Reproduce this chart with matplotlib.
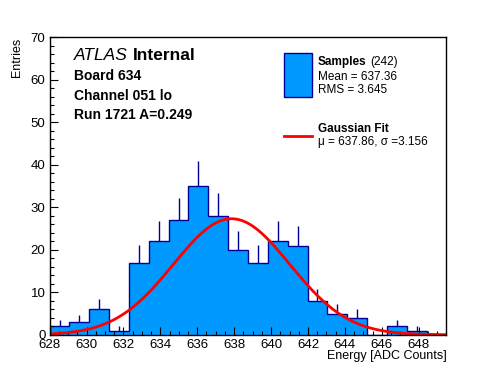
import numpy as np
import matplotlib.pyplot as plt
from matplotlib.patches import Rectangle
from matplotlib.lines import Line2D
from matplotlib.ticker import MultipleLocator

plt.rcParams['font.family'] = ['Liberation Sans', 'DejaVu Sans']

# histogram data (20 bins)
x_lo, x_hi = 628.0, 649.5
counts = [2, 3, 6, 1, 17, 22, 27, 35, 28, 20, 17, 22, 21, 8, 5, 4, 0, 2, 1, 0]

# fit parameters
fit_mu = 637.86
fit_sigma = 3.156
fit_amp = 27.3

n_samples = 242
mean_txt = "637.36"
rms_txt = "3.645"

fill_col = "#0099ff"
edge_col = "#000099"

edges = np.linspace(x_lo, x_hi, len(counts) + 1)
centres = 0.5 * (edges[:-1] + edges[1:])
counts = np.array(counts)

fig = plt.figure(figsize=(4.96, 3.72), dpi=100)
ax = fig.add_axes([0.1, 0.1, 0.8, 0.8])

ax.stairs(counts, edges, fill=True, color=fill_col, lw=0)
ax.stairs(counts, edges, fill=False, color=edge_col, lw=1.0)
nz = counts > 0
ax.vlines(centres[nz], counts[nz], counts[nz] + np.sqrt(counts[nz]), color=edge_col, lw=1.0)

xf = np.linspace(x_lo, x_hi, 400)
ax.plot(xf, fit_amp * np.exp(-0.5 * ((xf - fit_mu) / fit_sigma) ** 2), color="red", lw=2)

ax.set_xlim(x_lo, x_hi)
ax.set_ylim(0, 70)
ax.xaxis.set_major_locator(MultipleLocator(2))
ax.xaxis.set_minor_locator(MultipleLocator(0.5))
ax.yaxis.set_major_locator(MultipleLocator(10))
ax.yaxis.set_minor_locator(MultipleLocator(2))
ax.tick_params(which="both", direction="in", top=False, right=False, labelsize=9.5, width=0.8)
ax.tick_params(which="major", length=6)
ax.tick_params(which="minor", length=3)
ax.tick_params(axis="x", pad=3)
ax.tick_params(axis="y", pad=3)
for s in ax.spines.values():
    s.set_linewidth(1.0)

fig.text(0.035, 0.898, "Entries", rotation=90, ha="center", va="top", fontsize=9)
fig.text(0.9, 1 - 356 / 372, "Energy [ADC Counts]", ha="right", va="center", fontsize=9)

# ATLAS label block
fig.text(0.149, 1 - 56 / 372, "ATLAS", style="italic", fontsize=12.5, va="center")
fig.text(0.267, 1 - 56 / 372, "Internal", weight="bold", fontsize=12.5, va="center")
fig.text(0.149, 1 - 76 / 372, "Board 634", weight="bold", fontsize=10, va="center")
fig.text(0.149, 1 - 96 / 372, "Channel 051 lo", weight="bold", fontsize=10, va="center")
fig.text(0.149, 1 - 115 / 372, "Run 1721 A=0.249", weight="bold", fontsize=10, va="center")

# legend
fig.patches.append(Rectangle((283.5 / 496, 1 - 97 / 372), 28 / 496, 44 / 372,
                             transform=fig.transFigure, facecolor=fill_col,
                             edgecolor=edge_col, lw=1.0))
fig.lines.append(Line2D([283.5 / 496, 311.5 / 496], [1 - 136 / 372] * 2,
                        transform=fig.transFigure, color="red", lw=2))
tx = 317.5 / 496
fig.text(tx, 1 - 62 / 372, "Samples", weight="bold", fontsize=8.5, va="center")
fig.text(tx + 0.1065, 1 - 62 / 372, "(%d)" % n_samples, fontsize=8.5, va="center")
fig.text(tx, 1 - 77 / 372, "Mean = " + mean_txt, fontsize=8.5, va="center")
fig.text(tx, 1 - 90 / 372, "RMS = " + rms_txt, fontsize=8.5, va="center")
fig.text(tx, 1 - 129 / 372, "Gaussian Fit", weight="bold", fontsize=8.5, va="center")
fig.text(tx, 1 - 142 / 372, "\u03bc = %.2f, \u03c3 =%.3f" % (fit_mu, fit_sigma),
         fontsize=8.5, va="center")

fig.savefig("out.png", dpi=100)
